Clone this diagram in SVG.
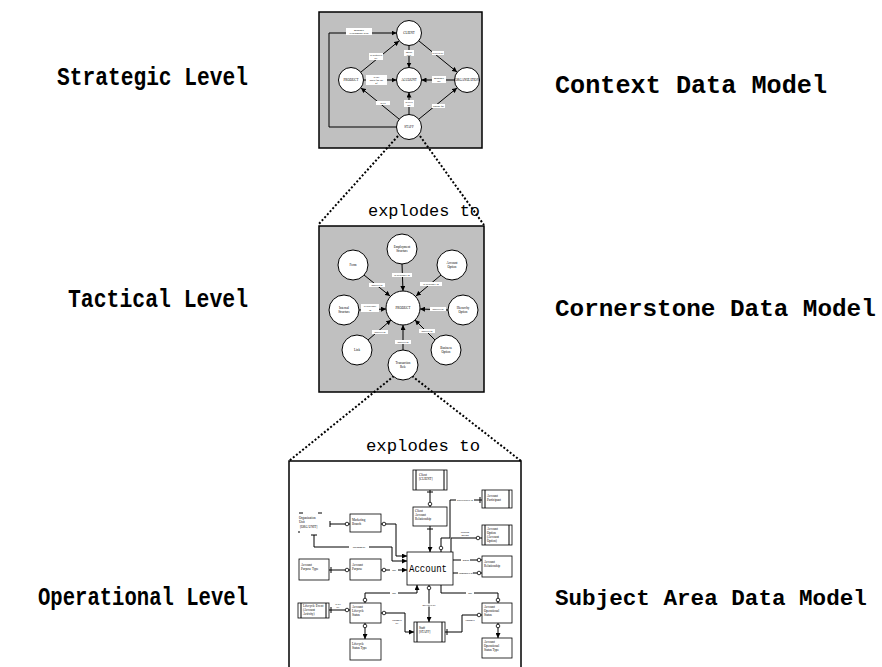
<svg xmlns="http://www.w3.org/2000/svg" width="882" height="667" viewBox="0 0 882 667">
<style>
.big{font-family:"Liberation Mono","Courier New",monospace;font-weight:bold;font-size:25px;fill:#000}
.exp{font-family:"Liberation Mono","Courier New",monospace;font-size:17px;fill:#000}
.panel{fill:#c0c0c0;stroke:#000;stroke-width:1.5}
.nd{fill:#fff;stroke:#000;stroke-width:1}
.nt{font-family:"Liberation Serif","Times New Roman",serif;font-size:3.2px;text-anchor:middle;fill:#000}
.lb{font-family:"Liberation Serif","Times New Roman",serif;font-size:2.8px;text-anchor:middle;fill:#000}
.lbg{fill:#fff;stroke:none}
.e{fill:none;stroke:#000;stroke-width:1}
.dot{fill:none;stroke:#000;stroke-width:2;stroke-dasharray:2 2}
.ent{fill:#fff;stroke:#000;stroke-width:0.8}
.et{font-family:"Liberation Serif","Times New Roman",serif;font-size:3.2px;fill:#000}
.oc{fill:#fff;stroke:#000;stroke-width:0.8}
</style>
<defs>
<marker id="ar" viewBox="0 0 10 10" refX="10" refY="5" markerWidth="5" markerHeight="5" orient="auto-start-reverse" markerUnits="userSpaceOnUse"><path d="M0,0 L10,5 L0,10 z" fill="#000"/></marker>
</defs>

<!-- big labels -->
<g id="labels">
<text class="big" x="57" y="85" textLength="191" lengthAdjust="spacingAndGlyphs">Strategic Level</text>
<text class="big" x="555" y="93" textLength="272" lengthAdjust="spacingAndGlyphs">Context Data Model</text>
<text class="big" x="68" y="307" textLength="180" lengthAdjust="spacingAndGlyphs">Tactical Level</text>
<text class="big" x="555" y="316" style="font-size:24.3px">Cornerstone Data Model</text>
<text class="big" x="38" y="605" textLength="210" lengthAdjust="spacingAndGlyphs">Operational Level</text>
<text class="big" x="555" y="605" style="font-size:22.6px">Subject Area Data Model</text>
<text class="exp" x="368" y="216" textLength="112" lengthAdjust="spacingAndGlyphs">explodes to</text>
<text class="exp" x="366" y="451" textLength="114" lengthAdjust="spacingAndGlyphs">explodes to</text>
</g>

<!-- panels -->
<rect class="panel" x="319" y="12" width="163" height="136"/>
<rect class="panel" x="319" y="226" width="165" height="166"/>
<rect x="289" y="461" width="232" height="220" fill="#fff" stroke="#000" stroke-width="1.5"/>

<!-- connectors -->
<g id="connectors">
<line class="dot" x1="398" y1="136" x2="318" y2="225"/>
<line class="dot" x1="420" y1="136" x2="484" y2="225"/>
<line class="dot" x1="394" y1="376" x2="289" y2="461"/>
<line class="dot" x1="412" y1="376" x2="521" y2="461"/>

<!-- strategic -->
<polyline class="e" points="396.5,127 329,127 329,33 396.5,33" marker-end="url(#ar)"/>
<line class="e" x1="361" y1="72" x2="399" y2="41" marker-end="url(#ar)"/>
<line class="e" x1="409" y1="45.5" x2="409" y2="67.5" marker-end="url(#ar)"/>
<line class="e" x1="419" y1="41" x2="457" y2="72" marker-end="url(#ar)"/>
<line class="e" x1="363.5" y1="80" x2="396.5" y2="80" marker-end="url(#ar)"/>
<line class="e" x1="454.5" y1="80" x2="421.5" y2="80" marker-end="url(#ar)"/>
<line class="e" x1="409" y1="114.5" x2="409" y2="92.5" marker-end="url(#ar)"/>
<line class="e" x1="399" y1="119" x2="361" y2="88" marker-end="url(#ar)"/>
<line class="e" x1="419" y1="119" x2="457" y2="88" marker-end="url(#ar)"/>

<!-- tactical -->
<line class="e" x1="402" y1="264" x2="403" y2="291" marker-end="url(#ar)"/>
<line class="e" x1="364" y1="275" x2="390" y2="296" marker-end="url(#ar)"/>
<line class="e" x1="441" y1="275" x2="416" y2="296" marker-end="url(#ar)"/>
<line class="e" x1="359" y1="310" x2="386" y2="309" marker-end="url(#ar)"/>
<line class="e" x1="448" y1="310" x2="420" y2="309" marker-end="url(#ar)"/>
<line class="e" x1="368" y1="340" x2="391" y2="320" marker-end="url(#ar)"/>
<line class="e" x1="435" y1="340" x2="415" y2="320" marker-end="url(#ar)"/>
<line class="e" x1="403" y1="350" x2="403" y2="325" marker-end="url(#ar)"/>

<!-- operational -->
<line class="e" x1="430" y1="490" x2="430" y2="507"/>
<line class="e" x1="430" y1="526" x2="430" y2="552" marker-end="url(#ar)"/>
<polyline class="e" points="441,552 441,538 450,538 450,500 482,500"/>
<polyline class="e" points="451,552 451,538 482,538"/>
<line class="e" x1="453" y1="560" x2="482" y2="560"/>
<line class="e" x1="453" y1="573" x2="482" y2="573"/>
<polyline class="e" points="381,524 396,524 396,556 407,556" marker-end="url(#ar)"/>
<polyline class="e" points="314,535 314,547 392,547 392,561 407,561" marker-end="url(#ar)"/>
<line class="e" x1="330" y1="524" x2="350" y2="524"/>
<line class="e" x1="329" y1="570" x2="350" y2="570"/>
<line class="e" x1="381" y1="570" x2="407" y2="570" marker-end="url(#ar)"/>
<polyline class="e" points="365,603 365,593 417,593 417,585" marker-end="url(#ar)"/>
<line class="e" x1="365" y1="623" x2="365" y2="639" marker-end="url(#ar)"/>
<line class="e" x1="329" y1="610" x2="350" y2="610"/>
<polyline class="e" points="381,613 405,613 405,632 414,632" marker-end="url(#ar)"/>
<line class="e" x1="429" y1="585" x2="429" y2="622" marker-end="url(#ar)"/>
<polyline class="e" points="445,632 462,632 462,615 482,615"/>
<polyline class="e" points="441,585 441,593 498,593 498,603"/>
<line class="e" x1="498" y1="623" x2="498" y2="638" marker-end="url(#ar)"/>
<!-- end symbols -->
<g>
<circle class="oc" cx="430" cy="504" r="1.8"/>
<line class="e" x1="427" y1="492" x2="433" y2="492"/>
<line class="e" x1="427" y1="529" x2="433" y2="529"/>
<circle class="oc" cx="441" cy="548" r="1.8"/>
<line class="e" x1="480" y1="497" x2="480" y2="503"/>
<circle class="oc" cx="478" cy="538" r="1.8"/>
<circle class="oc" cx="479" cy="560" r="1.8"/>
<circle class="oc" cx="479" cy="573" r="1.8"/>
<circle class="oc" cx="384" cy="524" r="1.8"/>
<line class="e" x1="311" y1="535" x2="317" y2="535"/>
<line class="e" x1="330" y1="521" x2="330" y2="527"/>
<circle class="oc" cx="347" cy="524" r="1.8"/>
<line class="e" x1="331" y1="567" x2="331" y2="573"/>
<circle class="oc" cx="347" cy="570" r="1.8"/>
<circle class="oc" cx="384" cy="570" r="1.8"/>
<circle class="oc" cx="365" cy="600" r="1.8"/>
<circle class="oc" cx="365" cy="626" r="1.8"/>
<line class="e" x1="331" y1="607" x2="331" y2="613"/>
<circle class="oc" cx="347" cy="610" r="1.8"/>
<circle class="oc" cx="384" cy="613" r="1.8"/>
<circle class="oc" cx="429" cy="588" r="1.8"/>
<line class="e" x1="447" y1="629" x2="447" y2="635"/>
<circle class="oc" cx="479" cy="615" r="1.8"/>
<circle class="oc" cx="498" cy="600" r="1.8"/>
<circle class="oc" cx="498" cy="626" r="1.8"/>
</g>

<!-- connector labels -->
<g>
<rect class="lbg" x="346" y="28" width="26" height="7"/>
<text class="lb" x="359" y="31">manages</text><text class="lb" x="359" y="34">relationship with</text>
<rect class="lbg" x="369" y="53" width="14" height="7"/>
<text class="lb" x="376" y="56">is acquired</text><text class="lb" x="376" y="59">by</text>
<rect class="lbg" x="404" y="50" width="10" height="6"/>
<text class="lb" x="409" y="52.5">holds</text><text class="lb" x="409" y="55.5">title</text>
<rect class="lbg" x="432" y="51" width="12" height="4"/>
<text class="lb" x="438" y="54">served by</text>
<rect class="lbg" x="366" y="75" width="21" height="10"/>
<text class="lb" x="376.5" y="78">is the</text><text class="lb" x="376.5" y="81">basis for the</text><text class="lb" x="376.5" y="84">of</text>
<rect class="lbg" x="432" y="76" width="14" height="7"/>
<text class="lb" x="439" y="79">manages</text><text class="lb" x="439" y="82">the</text>
<rect class="lbg" x="404" y="100" width="10" height="7"/>
<text class="lb" x="409" y="103">serves</text><text class="lb" x="409" y="106">the</text>
<rect class="lbg" x="376" y="101" width="14" height="4"/>
<text class="lb" x="383" y="104">sells</text>
<rect class="lbg" x="432" y="104" width="13" height="4"/>
<text class="lb" x="438.5" y="107">works for</text>

<rect class="lbg" x="392" y="273" width="20" height="4"/>
<text class="lb" x="402" y="276">is available in</text>
<rect class="lbg" x="369" y="283" width="16" height="4"/>
<text class="lb" x="377" y="286">applies to</text>
<rect class="lbg" x="420" y="282" width="22" height="4"/>
<text class="lb" x="431" y="285">is available in</text>
<rect class="lbg" x="361" y="304" width="18" height="8"/>
<text class="lb" x="370" y="307">is available</text><text class="lb" x="370" y="310.5">in</text>
<rect class="lbg" x="430" y="307" width="16" height="4"/>
<text class="lb" x="438" y="310">applies to</text>
<rect class="lbg" x="372" y="330" width="16" height="4"/>
<text class="lb" x="380" y="333">applies to</text>
<rect class="lbg" x="419" y="329" width="16" height="4"/>
<text class="lb" x="427" y="332">applies to</text>
<rect class="lbg" x="395" y="340" width="16" height="4"/>
<text class="lb" x="403" y="343">applies to</text>

<rect class="lbg" x="456" y="498" width="18" height="3"/>
<text class="lb" x="465" y="500.5">participates in</text>
<text class="lb" x="465" y="533">account</text><text class="lb" x="465" y="536">option</text>
<rect class="lbg" x="461" y="558" width="9" height="3"/>
<text class="lb" x="466" y="560.5">group</text>
<rect class="lbg" x="458" y="571" width="15" height="3"/>
<text class="lb" x="466" y="573.5">composed of</text>
<rect class="lbg" x="349" y="545.5" width="20" height="3"/>
<text class="lb" x="359" y="548">assignment</text>
<rect class="lbg" x="390" y="568.5" width="8" height="3"/>
<text class="lb" x="394" y="571">has</text>
<rect class="lbg" x="390" y="591.5" width="8" height="3"/>
<text class="lb" x="394" y="594">has</text>
<text class="lb" x="338" y="605">is set</text><text class="lb" x="338" y="608">by</text>
<text class="lb" x="397" y="621">changed</text><text class="lb" x="397" y="624">by</text>
<rect class="lbg" x="421" y="603.5" width="16" height="3"/>
<text class="lb" x="429" y="606">operated by</text>
<text class="lb" x="470" y="621">changes</text>
<rect class="lbg" x="466" y="591.5" width="8" height="3"/>
<text class="lb" x="470" y="594">has</text>
</g>
</g>

<!-- strategic nodes -->
<g id="s-client"><circle class="nd" cx="409" cy="33" r="12.5"/><text class="nt" x="409" y="34">CLIENT</text></g>
<g id="s-product"><circle class="nd" cx="351" cy="80" r="12.5"/><text class="nt" x="351" y="81">PRODUCT</text></g>
<g id="s-account"><circle class="nd" cx="409" cy="80" r="12.5"/><text class="nt" x="409" y="81">ACCOUNT</text></g>
<g id="s-org"><circle class="nd" cx="467" cy="80" r="12.5"/><text class="nt" x="467" y="81">ORGANIZATION</text></g>
<g id="s-staff"><circle class="nd" cx="409" cy="127" r="12.5"/><text class="nt" x="409" y="128">STAFF</text></g>

<!-- tactical nodes -->
<g id="t-product"><circle class="nd" cx="403" cy="308" r="17"/><text class="nt" x="403" y="309">PRODUCT</text></g>
<g id="t-emp"><circle class="nd" cx="402" cy="249" r="15"/><text class="nt" x="402" y="248">Employment</text><text class="nt" x="402" y="252">Structure</text></g>
<g id="t-form"><circle class="nd" cx="353" cy="265" r="15"/><text class="nt" x="353" y="266">Form</text></g>
<g id="t-acopt"><circle class="nd" cx="452" cy="265" r="15"/><text class="nt" x="452" y="264">Account</text><text class="nt" x="452" y="268">Option</text></g>
<g id="t-int"><circle class="nd" cx="344" cy="310" r="15"/><text class="nt" x="344" y="309">Internal</text><text class="nt" x="344" y="313">Structure</text></g>
<g id="t-hier"><circle class="nd" cx="463" cy="310" r="15"/><text class="nt" x="463" y="309">Hierarchy</text><text class="nt" x="463" y="313">Option</text></g>
<g id="t-link"><circle class="nd" cx="357" cy="350" r="15"/><text class="nt" x="357" y="351">Link</text></g>
<g id="t-bus"><circle class="nd" cx="446" cy="350" r="15"/><text class="nt" x="446" y="349">Business</text><text class="nt" x="446" y="353">Option</text></g>
<g id="t-trans"><circle class="nd" cx="403" cy="365" r="15"/><text class="nt" x="403" y="364">Transaction</text><text class="nt" x="403" y="368">Role</text></g>

<!-- operational entities -->
<g id="o-client"><rect class="ent" x="413" y="470" width="34" height="20"/><line class="e" x1="416" y1="470" x2="416" y2="490" stroke-width="0.6"/><line class="e" x1="444" y1="470" x2="444" y2="490" stroke-width="0.6"/><text class="et" x="419" y="476">Client</text><text class="et" x="419" y="480">[CLIENT]</text></g>
<g id="o-car"><rect class="ent" x="413" y="507" width="34" height="19"/><text class="et" x="415" y="512">Client</text><text class="et" x="415" y="516">Account</text><text class="et" x="415" y="520">Relationship</text></g>
<g id="o-part"><rect class="ent" x="482" y="490" width="30" height="18"/><line class="e" x1="485" y1="490" x2="485" y2="508" stroke-width="0.6"/><line class="e" x1="509" y1="490" x2="509" y2="508" stroke-width="0.6"/><text class="et" x="487" y="497">Account</text><text class="et" x="487" y="501">Participant</text></g>
<g id="o-opt"><rect class="ent" x="482" y="525" width="30" height="20"/><line class="e" x1="485" y1="525" x2="485" y2="545" stroke-width="0.6"/><line class="e" x1="509" y1="525" x2="509" y2="545" stroke-width="0.6"/><text class="et" x="487" y="530">Account</text><text class="et" x="487" y="534">Option</text><text class="et" x="487" y="538">(Account</text><text class="et" x="487" y="542">Option)</text></g>
<g id="o-rel"><rect class="ent" x="482" y="556" width="30" height="21"/><text class="et" x="484" y="563">Account</text><text class="et" x="484" y="567">Relationship</text></g>
<g id="o-account"><rect class="ent" x="407" y="552" width="46" height="33"/><text x="409" y="572" font-family="Liberation Mono,Courier New,monospace" font-size="11" textLength="38" lengthAdjust="spacingAndGlyphs">Account</text></g>
<g id="o-mkt"><rect class="ent" x="350" y="514" width="31" height="18"/><text class="et" x="352" y="521">Marketing</text><text class="et" x="352" y="525">Branch</text></g>
<g id="o-org"><path class="e" d="M299,513 h4 M318,513 h4 M299,531 v2" stroke-width="0.6"/><text class="et" x="299" y="519">Organization</text><text class="et" x="299" y="523">Unit</text><text class="et" x="300" y="528">[ORG UNIT]</text></g>
<g id="o-apt"><rect class="ent" x="299" y="559" width="30" height="21"/><text class="et" x="301" y="566">Account</text><text class="et" x="301" y="570">Purpose Type</text></g>
<g id="o-ap"><rect class="ent" x="350" y="559" width="31" height="21"/><text class="et" x="352" y="566">Account</text><text class="et" x="352" y="570">Purpose</text></g>
<g id="o-evt"><rect class="ent" x="298" y="603" width="31" height="15"/><line class="e" x1="301" y1="603" x2="301" y2="618" stroke-width="0.6"/><line class="e" x1="326" y1="603" x2="326" y2="618" stroke-width="0.6"/><text class="et" x="303" y="607">Lifecycle Event</text><text class="et" x="303" y="611">(Account</text><text class="et" x="303" y="615">Activity)</text></g>
<g id="o-als"><rect class="ent" x="350" y="603" width="31" height="20"/><text class="et" x="352" y="608">Account</text><text class="et" x="352" y="612">Lifecycle</text><text class="et" x="352" y="616">Status</text></g>
<g id="o-lst"><rect class="ent" x="350" y="639" width="31" height="21"/><text class="et" x="352" y="645">Lifecycle</text><text class="et" x="352" y="649">Status Type</text></g>
<g id="o-staff"><rect class="ent" x="414" y="622" width="31" height="20"/><line class="e" x1="417" y1="622" x2="417" y2="642" stroke-width="0.6"/><line class="e" x1="442" y1="622" x2="442" y2="642" stroke-width="0.6"/><text class="et" x="419" y="629">Staff</text><text class="et" x="419" y="633">[STAFF]</text></g>
<g id="o-aos"><rect class="ent" x="482" y="603" width="30" height="20"/><text class="et" x="484" y="608">Account</text><text class="et" x="484" y="612">Operational</text><text class="et" x="484" y="616">Status</text></g>
<g id="o-aost"><rect class="ent" x="482" y="638" width="30" height="20"/><text class="et" x="484" y="643">Account</text><text class="et" x="484" y="647">Operational</text><text class="et" x="484" y="651">Status Type</text></g>
</svg>
